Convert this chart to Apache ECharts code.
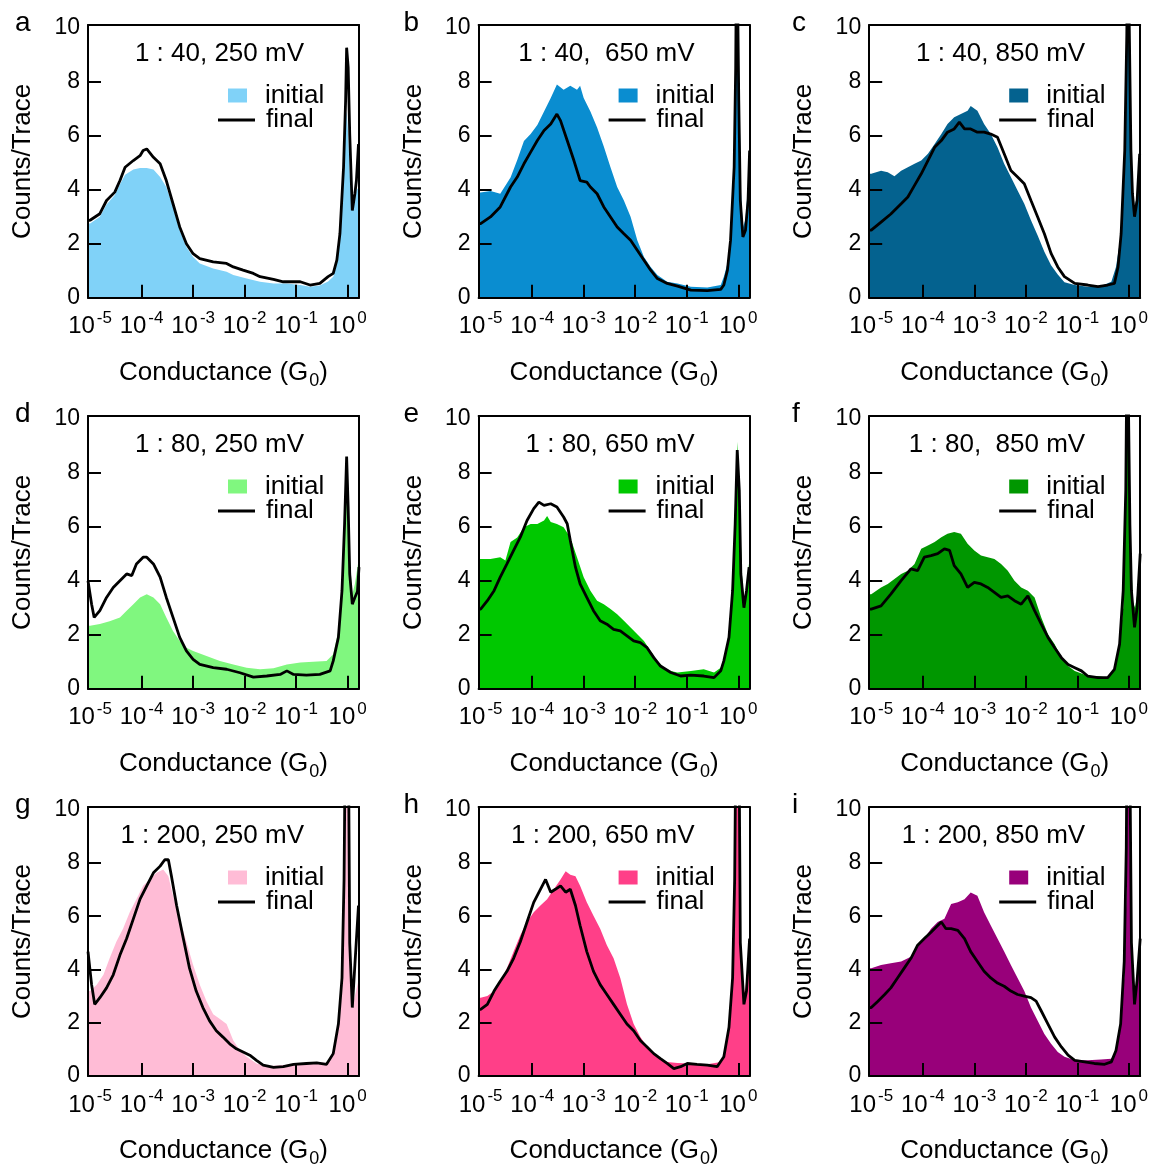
<!DOCTYPE html>
<html>
<head>
<meta charset="utf-8">
<script src="https://cdn.jsdelivr.net/npm/echarts@6/dist/echarts.min.js"></script>
<style>html,body{margin:0;padding:0;background:#fff}#c{width:1156px;height:1169px}</style>
</head>
<body>
<div id="c"></div>
<script>
// ---------- data (x = log10 of conductance in G0, y = counts/trace) ----------
const panelLetters = ['a','b','c','d','e','f','g','h','i'];
const panelTitles = ['1 : 40, 250 mV','1 : 40,  650 mV','1 : 40, 850 mV',
                     '1 : 80, 250 mV','1 : 80, 650 mV','1 : 80,  850 mV',
                     '1 : 200, 250 mV','1 : 200, 650 mV','1 : 200, 850 mV'];
const fillColors = ['#80d2f8','#0a8dd0','#04628f','#80f77f','#00c800','#009700','#ffbcd6','#ff3f88','#98007a'];
const xTickValues = [-5,-4,-3,-2,-1,0];
const yTickValues = [0,2,4,6,8,10];

const initialA = [[-5.04,2.75],[-5.0,2.75],[-4.81,3.0],[-4.68,3.45],[-4.52,3.8],[-4.42,4.2],[-4.32,4.55],[-4.16,4.75],[-4.03,4.8],[-3.9,4.8],[-3.77,4.75],[-3.64,4.47],[-3.52,4.1],[-3.39,3.36],[-3.26,2.5],[-3.13,1.88],[-3.0,1.51],[-2.87,1.27],[-2.61,1.08],[-2.35,0.96],[-2.22,0.84],[-1.96,0.71],[-1.7,0.59],[-1.44,0.53],[-1.18,0.53],[-0.92,0.47],[-0.73,0.41],[-0.54,0.45],[-0.38,0.6],[-0.28,0.78],[-0.21,1.27],[-0.15,2.25],[-0.08,4.59],[-0.04,6.68],[-0.02,6.9],[0.01,6.06],[0.04,4.59],[0.09,3.36],[0.14,3.73],[0.17,3.97],[0.22,4.1]];
const finalA = [[-5.04,2.85],[-5.0,2.87],[-4.81,3.11],[-4.68,3.6],[-4.52,3.91],[-4.42,4.34],[-4.32,4.83],[-4.16,5.08],[-4.03,5.26],[-3.97,5.45],[-3.9,5.51],[-3.77,5.2],[-3.64,4.96],[-3.52,4.34],[-3.39,3.48],[-3.26,2.62],[-3.13,2.0],[-3.0,1.63],[-2.87,1.45],[-2.61,1.33],[-2.35,1.27],[-2.22,1.14],[-2.03,1.02],[-1.83,0.9],[-1.7,0.78],[-1.44,0.68],[-1.25,0.59],[-1.05,0.59],[-0.92,0.59],[-0.73,0.47],[-0.54,0.53],[-0.38,0.78],[-0.28,0.9],[-0.21,1.39],[-0.15,2.37],[-0.08,4.83],[-0.04,7.29],[-0.02,9.26],[0.01,8.52],[0.04,6.06],[0.09,3.23],[0.14,3.85],[0.17,4.34],[0.21,5.69]];

const initialB = [[-5.04,3.9],[-5.0,3.9],[-4.81,3.95],[-4.62,3.85],[-4.42,4.45],[-4.29,5.1],[-4.16,5.8],[-4.03,6.06],[-3.9,6.4],[-3.77,6.9],[-3.64,7.4],[-3.52,7.9],[-3.39,7.7],[-3.26,7.85],[-3.13,7.7],[-3.07,7.85],[-3.0,7.4],[-2.87,6.9],[-2.74,6.3],[-2.61,5.6],[-2.48,4.83],[-2.35,4.1],[-2.22,3.6],[-2.09,3.0],[-1.96,2.13],[-1.83,1.51],[-1.7,1.14],[-1.57,0.84],[-1.38,0.59],[-1.18,0.53],[-0.92,0.41],[-0.6,0.38],[-0.34,0.47],[-0.28,0.78],[-0.21,1.27],[-0.15,2.13],[-0.08,4.2],[-0.05,9],[-0.03,14],[0.0,14],[0.02,8],[0.05,4],[0.09,2.6],[0.14,2.9],[0.19,4.2],[0.22,5.9]];
const finalB = [[-5.04,2.74],[-5.0,2.74],[-4.81,2.99],[-4.62,3.36],[-4.42,4.1],[-4.29,4.47],[-4.16,4.96],[-4.03,5.39],[-3.9,5.82],[-3.77,6.19],[-3.64,6.43],[-3.52,6.8],[-3.45,6.56],[-3.32,5.82],[-3.19,5.08],[-3.07,4.34],[-2.94,4.28],[-2.87,4.1],[-2.74,3.85],[-2.61,3.36],[-2.48,2.99],[-2.35,2.62],[-2.22,2.37],[-2.09,2.13],[-1.96,1.76],[-1.83,1.39],[-1.7,1.02],[-1.57,0.71],[-1.38,0.53],[-1.18,0.43],[-0.92,0.28],[-0.6,0.26],[-0.34,0.31],[-0.28,0.47],[-0.21,1.02],[-0.15,2.13],[-0.08,4.83],[-0.05,8.52],[-0.03,14],[-0.01,14],[0.01,7.3],[0.04,3.6],[0.09,2.25],[0.14,2.5],[0.19,3.6],[0.22,5.45]];

const initialC = [[-5.04,4.59],[-5.0,4.59],[-4.81,4.7],[-4.68,4.65],[-4.55,4.5],[-4.42,4.7],[-4.29,4.83],[-4.16,4.96],[-4.03,5.08],[-3.9,5.33],[-3.77,5.69],[-3.64,6.06],[-3.52,6.43],[-3.39,6.68],[-3.26,6.8],[-3.13,6.92],[-3.07,7.1],[-2.94,6.92],[-2.81,6.43],[-2.68,6.06],[-2.55,5.57],[-2.42,4.96],[-2.29,4.47],[-2.16,3.97],[-2.03,3.48],[-1.9,2.87],[-1.77,2.3],[-1.64,1.7],[-1.51,1.2],[-1.38,0.86],[-1.25,0.57],[-1.05,0.47],[-0.8,0.41],[-0.54,0.43],[-0.34,0.59],[-0.25,1.14],[-0.15,2.37],[-0.08,4.83],[-0.03,14],[0.0,14],[0.04,5],[0.07,3.5],[0.11,3.36],[0.16,3.8],[0.22,5.9]];
const finalC = [[-5.04,2.5],[-5.0,2.5],[-4.81,2.8],[-4.62,3.1],[-4.42,3.48],[-4.29,3.73],[-4.16,4.16],[-4.03,4.59],[-3.9,5.08],[-3.77,5.57],[-3.64,5.82],[-3.52,6.13],[-3.39,6.25],[-3.29,6.5],[-3.19,6.25],[-3.07,6.25],[-2.94,6.13],[-2.81,6.13],[-2.68,6.06],[-2.55,5.94],[-2.42,5.33],[-2.29,4.71],[-2.16,4.47],[-2.03,4.22],[-1.9,3.6],[-1.77,2.99],[-1.64,2.37],[-1.51,1.64],[-1.38,1.14],[-1.25,0.78],[-1.05,0.53],[-0.8,0.47],[-0.6,0.41],[-0.41,0.47],[-0.28,0.53],[-0.21,1.14],[-0.15,2.37],[-0.08,5.45],[-0.04,9.75],[-0.02,14],[0.01,14],[0.04,5.45],[0.07,3.85],[0.11,3.0],[0.16,3.6],[0.21,5.33]];

const initialD = [[-5.04,2.33],[-5.0,2.33],[-4.81,2.4],[-4.62,2.5],[-4.42,2.64],[-4.29,2.89],[-4.16,3.13],[-4.03,3.38],[-3.9,3.5],[-3.77,3.38],[-3.64,3.13],[-3.52,2.64],[-3.39,2.14],[-3.26,1.77],[-3.13,1.52],[-3.0,1.4],[-2.74,1.21],[-2.48,1.03],[-2.22,0.9],[-1.96,0.78],[-1.7,0.72],[-1.44,0.76],[-1.18,0.9],[-0.92,0.97],[-0.67,1.0],[-0.41,1.03],[-0.28,1.28],[-0.18,2.14],[-0.11,3.63],[-0.07,6.1],[-0.02,7.9],[0.04,4.87],[0.09,3.5],[0.14,3.88],[0.22,4.87]];
const finalD = [[-5.04,4.0],[-4.97,3.13],[-4.92,2.64],[-4.81,2.89],[-4.68,3.38],[-4.55,3.75],[-4.42,4.0],[-4.29,4.25],[-4.19,4.19],[-4.1,4.62],[-3.97,4.87],[-3.9,4.87],[-3.77,4.62],[-3.64,4.13],[-3.52,3.38],[-3.39,2.64],[-3.26,1.9],[-3.13,1.4],[-3.0,1.09],[-2.87,0.9],[-2.61,0.78],[-2.35,0.72],[-2.09,0.59],[-1.83,0.43],[-1.57,0.47],[-1.31,0.53],[-1.18,0.66],[-1.05,0.53],[-0.8,0.5],[-0.54,0.53],[-0.34,0.66],[-0.28,1.03],[-0.18,1.9],[-0.11,3.63],[-0.06,6.1],[-0.02,8.6],[0.01,6.7],[0.04,4.25],[0.09,3.13],[0.14,3.38],[0.19,3.6],[0.22,4.5]];

const initialE = [[-5.04,4.8],[-5.0,4.8],[-4.81,4.8],[-4.62,4.87],[-4.52,4.75],[-4.42,5.43],[-4.29,5.6],[-4.16,5.98],[-4.03,6.1],[-3.9,6.1],[-3.77,6.23],[-3.71,6.4],[-3.64,6.17],[-3.52,6.1],[-3.39,5.98],[-3.26,5.6],[-3.13,4.87],[-3.0,4.13],[-2.87,3.63],[-2.74,3.26],[-2.61,3.13],[-2.48,2.95],[-2.35,2.76],[-2.22,2.52],[-2.09,2.27],[-1.96,2.02],[-1.83,1.77],[-1.7,1.4],[-1.57,1.03],[-1.44,0.78],[-1.31,0.66],[-1.18,0.6],[-0.92,0.66],[-0.67,0.72],[-0.47,0.6],[-0.34,0.78],[-0.25,1.28],[-0.18,2.14],[-0.11,3.63],[-0.07,6.1],[-0.02,9.15],[0.03,6.73],[0.07,4.25],[0.12,3.13],[0.17,3.88],[0.22,4.87]];
const finalE = [[-5.04,2.95],[-5.0,2.95],[-4.87,3.26],[-4.74,3.63],[-4.62,4.13],[-4.49,4.62],[-4.36,5.12],[-4.23,5.61],[-4.1,6.23],[-3.97,6.67],[-3.87,6.91],[-3.77,6.79],[-3.64,6.85],[-3.52,6.73],[-3.39,6.36],[-3.32,6.11],[-3.26,5.49],[-3.16,4.5],[-3.07,3.88],[-2.94,3.38],[-2.81,2.89],[-2.68,2.52],[-2.55,2.39],[-2.42,2.2],[-2.29,2.14],[-2.16,1.96],[-2.03,1.77],[-1.9,1.71],[-1.77,1.52],[-1.64,1.15],[-1.51,0.84],[-1.31,0.6],[-1.12,0.47],[-0.92,0.5],[-0.67,0.47],[-0.47,0.41],[-0.34,0.66],[-0.28,1.03],[-0.18,1.9],[-0.11,3.63],[-0.06,6.1],[-0.02,8.84],[0.02,7.35],[0.05,4.25],[0.11,3.0],[0.16,3.63],[0.21,4.5]];

const initialF = [[-5.04,3.5],[-5.0,3.5],[-4.81,3.75],[-4.68,3.88],[-4.55,4.06],[-4.42,4.25],[-4.29,4.37],[-4.16,4.62],[-4.03,5.18],[-3.9,5.3],[-3.77,5.43],[-3.64,5.61],[-3.52,5.74],[-3.39,5.8],[-3.26,5.74],[-3.13,5.37],[-3.0,5.12],[-2.87,4.93],[-2.74,4.87],[-2.61,4.8],[-2.48,4.62],[-2.35,4.37],[-2.22,4.0],[-2.09,3.75],[-1.96,3.63],[-1.83,3.38],[-1.7,2.64],[-1.57,2.02],[-1.44,1.65],[-1.31,1.15],[-1.18,0.84],[-1.05,0.66],[-0.92,0.56],[-0.8,0.47],[-0.6,0.47],[-0.41,0.41],[-0.28,0.72],[-0.18,1.52],[-0.11,3.0],[-0.05,7.35],[-0.02,14],[0.01,14],[0.04,5],[0.08,3.2],[0.12,3.0],[0.17,3.6],[0.22,4.87]];
const finalF = [[-5.04,2.95],[-5.0,2.95],[-4.81,3.07],[-4.62,3.5],[-4.42,4.0],[-4.23,4.44],[-4.1,4.37],[-3.97,4.87],[-3.84,4.93],[-3.71,5.0],[-3.58,5.18],[-3.48,5.12],[-3.39,4.56],[-3.26,4.25],[-3.13,3.75],[-3.0,3.94],[-2.87,3.88],[-2.74,3.75],[-2.61,3.57],[-2.48,3.38],[-2.35,3.44],[-2.22,3.26],[-2.09,3.13],[-1.96,3.44],[-1.83,2.89],[-1.7,2.39],[-1.57,1.9],[-1.44,1.52],[-1.31,1.15],[-1.18,0.9],[-1.05,0.78],[-0.92,0.66],[-0.8,0.47],[-0.6,0.41],[-0.41,0.41],[-0.28,0.72],[-0.18,1.65],[-0.11,3.63],[-0.06,7.35],[-0.03,14],[-0.01,14],[0.02,6.1],[0.05,3.63],[0.11,2.27],[0.16,3.0],[0.22,5.0]];

const initialG = [[-5.04,3.19],[-5.0,3.19],[-4.87,3.43],[-4.74,3.8],[-4.62,4.42],[-4.49,5.04],[-4.36,5.53],[-4.23,6.15],[-4.1,6.64],[-3.97,7.14],[-3.84,7.38],[-3.71,7.63],[-3.58,7.75],[-3.48,7.5],[-3.39,6.77],[-3.26,5.9],[-3.13,5.04],[-3.0,4.17],[-2.87,3.43],[-2.74,2.81],[-2.61,2.32],[-2.48,2.14],[-2.35,1.95],[-2.22,1.33],[-2.09,0.96],[-1.96,0.72],[-1.77,0.47],[-1.57,0.37],[-1.25,0.41],[-0.92,0.47],[-0.6,0.53],[-0.41,0.49],[-0.28,0.84],[-0.18,1.7],[-0.11,3.19],[-0.07,7],[-0.03,14],[0.01,14],[0.04,5],[0.09,2.6],[0.14,3.0],[0.22,3.68]];
const finalG = [[-5.04,4.67],[-4.97,3.43],[-4.91,2.69],[-4.81,2.94],[-4.68,3.31],[-4.55,3.8],[-4.42,4.54],[-4.29,5.16],[-4.16,5.9],[-4.03,6.64],[-3.9,7.14],[-3.77,7.63],[-3.64,7.88],[-3.55,8.12],[-3.48,8.12],[-3.42,7.5],[-3.32,6.4],[-3.19,5.16],[-3.07,4.05],[-2.94,3.19],[-2.81,2.57],[-2.68,2.07],[-2.55,1.7],[-2.42,1.46],[-2.29,1.21],[-2.16,1.02],[-2.03,0.9],[-1.9,0.78],[-1.77,0.59],[-1.64,0.41],[-1.44,0.32],[-1.25,0.35],[-1.05,0.44],[-0.8,0.47],[-0.6,0.49],[-0.41,0.44],[-0.28,0.84],[-0.18,1.95],[-0.11,3.68],[-0.07,7.38],[-0.04,14],[0.01,14],[0.04,5],[0.09,2.57],[0.14,4.17],[0.21,6.4]];

const initialH = [[-5.04,2.94],[-5.0,2.94],[-4.87,3.0],[-4.74,3.19],[-4.62,3.56],[-4.49,4.05],[-4.36,4.67],[-4.23,5.28],[-4.1,5.78],[-3.97,6.15],[-3.84,6.4],[-3.71,6.64],[-3.58,7.01],[-3.45,7.38],[-3.35,7.69],[-3.26,7.56],[-3.16,7.5],[-3.07,7.14],[-2.94,6.52],[-2.81,6.02],[-2.68,5.53],[-2.55,4.91],[-2.42,4.42],[-2.29,3.68],[-2.16,2.69],[-2.03,1.95],[-1.9,1.46],[-1.77,1.09],[-1.64,0.84],[-1.51,0.65],[-1.38,0.53],[-1.18,0.49],[-0.92,0.47],[-0.6,0.44],[-0.34,0.53],[-0.25,0.96],[-0.16,1.95],[-0.1,3.68],[-0.05,8],[-0.03,14],[0.01,14],[0.04,5],[0.09,3.0],[0.14,3.3],[0.22,4.85]];
const finalH = [[-5.04,2.5],[-5.0,2.5],[-4.87,2.69],[-4.74,3.19],[-4.62,3.56],[-4.49,3.93],[-4.36,4.42],[-4.23,5.04],[-4.1,5.78],[-3.97,6.52],[-3.84,7.01],[-3.74,7.38],[-3.64,6.9],[-3.55,7.01],[-3.45,7.14],[-3.35,6.9],[-3.26,7.01],[-3.16,6.4],[-3.07,5.65],[-2.94,4.67],[-2.81,3.93],[-2.68,3.43],[-2.55,3.06],[-2.42,2.69],[-2.29,2.32],[-2.16,1.95],[-2.03,1.7],[-1.9,1.33],[-1.77,1.09],[-1.64,0.84],[-1.51,0.65],[-1.38,0.47],[-1.25,0.28],[-1.12,0.35],[-0.99,0.47],[-0.8,0.44],[-0.6,0.41],[-0.41,0.35],[-0.28,0.72],[-0.18,1.83],[-0.11,3.68],[-0.07,7.38],[-0.04,14],[0.01,14],[0.04,5],[0.11,2.69],[0.16,3.19],[0.22,5.16]];

const initialI = [[-5.04,4.05],[-5.0,4.05],[-4.81,4.17],[-4.62,4.23],[-4.42,4.3],[-4.23,4.48],[-4.1,4.91],[-3.97,5.16],[-3.84,5.53],[-3.71,5.78],[-3.58,5.9],[-3.45,6.46],[-3.32,6.52],[-3.19,6.64],[-3.07,6.89],[-2.94,6.77],[-2.81,6.15],[-2.68,5.65],[-2.55,5.16],[-2.42,4.67],[-2.29,4.17],[-2.16,3.68],[-2.03,3.19],[-1.9,2.57],[-1.77,2.07],[-1.64,1.58],[-1.51,1.21],[-1.38,0.9],[-1.25,0.72],[-1.05,0.59],[-0.8,0.59],[-0.54,0.62],[-0.34,0.65],[-0.25,0.96],[-0.16,1.95],[-0.09,3.68],[-0.04,7.38],[-0.02,14],[0.01,14],[0.04,5],[0.08,3.3],[0.12,3.2],[0.17,3.8],[0.22,4.67]];
const finalI = [[-5.04,2.57],[-5.0,2.57],[-4.87,2.81],[-4.74,3.06],[-4.62,3.31],[-4.49,3.68],[-4.36,4.05],[-4.23,4.42],[-4.1,4.91],[-3.97,5.16],[-3.84,5.4],[-3.71,5.65],[-3.64,5.78],[-3.55,5.53],[-3.45,5.53],[-3.32,5.47],[-3.19,5.16],[-3.07,4.67],[-2.94,4.3],[-2.81,3.93],[-2.68,3.68],[-2.55,3.49],[-2.42,3.37],[-2.29,3.19],[-2.16,3.06],[-2.03,3.0],[-1.9,2.94],[-1.8,2.81],[-1.7,2.44],[-1.57,1.95],[-1.44,1.46],[-1.31,1.09],[-1.18,0.78],[-1.05,0.59],[-0.86,0.53],[-0.67,0.47],[-0.47,0.44],[-0.34,0.53],[-0.25,0.96],[-0.16,1.95],[-0.09,4.3],[-0.05,8.6],[-0.03,14],[0.01,14],[0.05,5],[0.11,2.69],[0.16,3.6],[0.22,5.16]];

const initialSets = [initialA,initialB,initialC,initialD,initialE,initialF,initialG,initialH,initialI];
const finalSets = [finalA,finalB,finalC,finalD,finalE,finalF,finalG,finalH,finalI];

// ---------- chart ----------
const FONT = '"Liberation Sans", Arial, Helvetica, sans-serif';
const W = 1156;
const chart = echarts.init(document.getElementById('c'), null, {renderer: 'canvas'});
const option = {animation:false, backgroundColor:'#ffffff', textStyle:{fontFamily:FONT, color:'#000'},
  title:[], legend:[], grid:[], xAxis:[], yAxis:[], series:[]};

for (let i = 0; i < 9; i++) {
  const col = i % 3, row = Math.floor(i / 3);
  const L = 88 + 390.6 * col, T = 25 + 391 * row;
  const key = panelLetters[i];
  option.grid.push({left:L, top:T, width:271, height:272.7});

  option.xAxis.push({
    type:'value', gridIndex:i, min:-5.04, max:0.22, z:10,
    axisLine:{show:true, onZero:false, lineStyle:{color:'#000', width:2}},
    axisTick:{show:true, inside:true, length:13, customValues:[-4,-3,-2,-1,0], lineStyle:{color:'#000', width:2}},
    splitLine:{show:false},
    axisLabel:{show:true, margin:12, customValues:xTickValues,
      formatter:(v)=>'{b|10}{s|' + Math.round(v) + '}',
      rich:{b:{fontSize:24, fontFamily:FONT, color:'#000'},
            s:{fontSize:17, fontFamily:FONT, color:'#000', padding:[0,0,17,2]}}},
    name:'{n|Conductance (G}{sub|0}{n|)}', nameLocation:'middle', nameGap:58,
    nameTextStyle:{rich:{n:{fontSize:26, fontFamily:FONT, color:'#000'},
                         sub:{fontSize:18, fontFamily:FONT, color:'#000', padding:[16,0,0,1]}}}
  });
  option.xAxis.push({
    type:'value', gridIndex:i, position:'top', min:-5.04, max:0.22, z:10,
    axisLine:{show:true, onZero:false, lineStyle:{color:'#000', width:2}},
    axisTick:{show:false}, axisLabel:{show:false}, splitLine:{show:false}
  });
  option.yAxis.push({
    type:'value', gridIndex:i, min:0, max:10.1, z:10,
    axisLine:{show:true, onZero:false, lineStyle:{color:'#000', width:2}},
    axisTick:{show:true, inside:true, length:13, customValues:[2,4,6,8], lineStyle:{color:'#000', width:2}},
    splitLine:{show:false},
    axisLabel:{show:true, margin:8, customValues:yTickValues, fontSize:23, fontFamily:FONT, color:'#000'},
    name:'Counts/Trace', nameLocation:'middle', nameGap:52, nameRotate:90,
    nameTextStyle:{fontSize:26, fontFamily:FONT, color:'#000'}
  });
  option.yAxis.push({
    type:'value', gridIndex:i, position:'right', min:0, max:10.1, z:10,
    axisLine:{show:true, onZero:false, lineStyle:{color:'#000', width:2}},
    axisTick:{show:false}, axisLabel:{show:false}, splitLine:{show:false}
  });

  option.series.push({
    name:'initial ' + key, type:'line', xAxisIndex:2*i, yAxisIndex:2*i, z:2,
    data:initialSets[i], symbol:'none', clip:true, silent:true,
    itemStyle:{color:fillColors[i]}, lineStyle:{width:0, color:fillColors[i]},
    areaStyle:{color:fillColors[i], opacity:1}
  });
  option.series.push({
    name:'final ' + key, type:'line', xAxisIndex:2*i, yAxisIndex:2*i, z:3,
    data:finalSets[i], symbol:'none', clip:true, silent:true,
    itemStyle:{color:'#000'}, lineStyle:{width:2.8, color:'#000'}
  });

  const fmt = (n)=>n.split(' ')[0];
  option.legend.push({
    data:['initial ' + key], left:L + 140, top:T + 57.5, padding:0, icon:'rect',
    itemWidth:19, itemHeight:14, selectedMode:false, formatter:fmt,
    textStyle:{fontSize:26, fontFamily:FONT, color:'#000', padding:[0,0,0,13]}
  });
  option.legend.push({
    data:['final ' + key], left:L + 130, top:T + 82, padding:0, icon:'rect',
    itemWidth:37, itemHeight:3, selectedMode:false, formatter:fmt,
    textStyle:{fontSize:26, fontFamily:FONT, color:'#000', padding:[0,0,0,6]}
  });

  option.title.push({
    text:panelTitles[i], right:W - (L + 216), top:T + 16, padding:0,
    textStyle:{fontSize:26, fontWeight:'normal', fontFamily:FONT, color:'#000'}
  });
  option.title.push({
    text:key, left:15 + 388.5 * col, top:9 + 391 * row, padding:0,
    textStyle:{fontSize:28, fontWeight:'normal', fontFamily:FONT, color:'#000'}
  });
}
chart.setOption(option);
</script>
</body>
</html>
